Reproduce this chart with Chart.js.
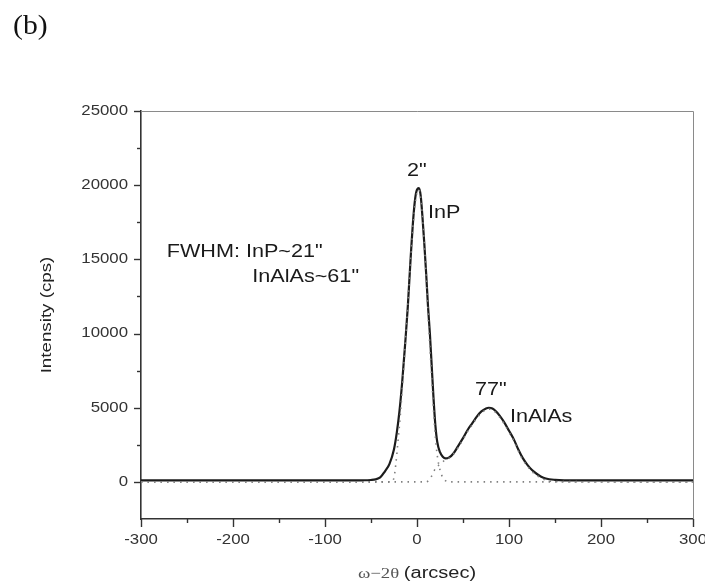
<!DOCTYPE html>
<html>
<head>
<meta charset="utf-8">
<script src="https://cdn.jsdelivr.net/npm/chart.js@4.4.1/dist/chart.umd.min.js"></script>
<style>
  html, body { margin: 0; padding: 0; background: #fff; }
  #wrap { width: 705px; height: 584px; }
</style>
</head>
<body>
<div id="wrap"><canvas id="xrd" width="705" height="584"></canvas></div>
<script>
// measured omega-2theta scan (solid line)
const scanX = [-300, -200, -100, -60, -50, -45, -40, -35, -30, -25, -22, -19, -16, -13, -10, -7, -4, -2, 0, 2, 4, 6, 8, 10, 12, 14, 16, 18, 20, 22, 25, 28, 31, 35, 40, 45, 50, 55, 60, 65, 70, 75, 78, 82, 86, 90, 95, 100, 105, 110, 115, 120, 125, 130, 135, 140, 150, 160, 200, 300];
const scanY = [100, 100, 100, 110, 130, 170, 300, 700, 1200, 2200, 3300, 4800, 6800, 9200, 11800, 15000, 17800, 19100, 19700, 19800, 19300, 17800, 16000, 14000, 11800, 10000, 7800, 5600, 3800, 2700, 2000, 1700, 1580, 1650, 1950, 2450, 2950, 3500, 3950, 4400, 4750, 4950, 5000, 4950, 4750, 4450, 4000, 3450, 2900, 2200, 1600, 1150, 800, 550, 350, 230, 140, 110, 100, 100];

// fitted InP component (dotted)
const inpX = [-300, -40, -28, -25, -23, -21, -18, -15, -12, -9, -6, -3, 0, 2, 4, 7, 10, 13, 16, 18, 20, 22, 25, 28, 31, 35, 300];
const inpY = [0, 0, 0, 300, 1200, 2500, 4600, 7200, 10000, 12900, 15800, 18200, 19500, 19700, 19200, 17000, 13800, 10200, 7000, 4800, 3000, 1800, 800, 300, 80, 0, 0];

// fitted InAlAs component (dotted)
const inalasX = [-300, 10, 15, 20, 25, 30, 35, 40, 45, 50, 55, 60, 65, 70, 75, 78, 82, 86, 90, 95, 100, 105, 110, 115, 120, 125, 130, 135, 140, 150, 300];
const inalasY = [0, 0, 300, 900, 1200, 1450, 1600, 1900, 2350, 2850, 3400, 3850, 4300, 4650, 4850, 4900, 4850, 4650, 4350, 3900, 3350, 2800, 2100, 1500, 1050, 700, 450, 250, 130, 30, 0];

// labelled tick values
const xLabelTicks = [-300, -200, -100, 0, 100, 200, 300];
const yLabelTicks = [0, 5000, 10000, 15000, 20000, 25000];

const notes = [
    { text: '2"', x: -11, y: 20950 },
    { text: 'InP', x: 12, y: 18150 },
    { text: '77"', x: 63, y: 6190 },
    { text: 'InAlAs', x: 101, y: 4400 },
    { text: 'FWHM: InP~21"', x: -272, y: 15490 },
    { text: 'InAlAs~61"', x: -179, y: 13800 }
];

const toPoints = (xs, ys) => xs.map((x, i) => ({ x: x, y: ys[i] }));

// the original lettering is rendered wide, so text is stretched along its direction
function wideText(ctx, text, x, y, font, align, stretch, color, rot) {
    ctx.save();
    ctx.translate(x, y);
    if (rot) ctx.rotate(rot);
    ctx.scale(stretch, 1);
    ctx.font = font;
    ctx.fillStyle = color;
    ctx.textAlign = align;
    ctx.textBaseline = 'middle';
    ctx.fillText(text, 0, 0);
    ctx.restore();
}

const decorPlugin = {
    id: 'decor',
    afterDraw(chart) {
        const ctx = chart.ctx;
        const xs = chart.scales.x;
        const ys = chart.scales.y;
        const area = chart.chartArea;

        // top and right frame
        ctx.save();
        ctx.strokeStyle = '#8a8a8a';
        ctx.lineWidth = 1;
        ctx.beginPath();
        ctx.moveTo(area.left, area.top + 0.5);
        ctx.lineTo(area.right + 0.5, area.top + 0.5);
        ctx.lineTo(area.right + 0.5, area.bottom);
        ctx.stroke();

        // tick marks, long for labelled values
        ctx.strokeStyle = '#333';
        ctx.lineWidth = 1.4;
        xs.ticks.forEach(t => {
            const px = Math.round(xs.getPixelForValue(t.value)) + 0.5;
            const len = xLabelTicks.includes(t.value) ? 8 : 4;
            ctx.beginPath();
            ctx.moveTo(px, area.bottom);
            ctx.lineTo(px, area.bottom + len);
            ctx.stroke();
        });
        ys.ticks.forEach(t => {
            if (t.value < 0) return;
            const py = Math.round(ys.getPixelForValue(t.value)) + 0.5;
            const len = yLabelTicks.includes(t.value) ? 7 : 4;
            ctx.beginPath();
            ctx.moveTo(area.left, py);
            ctx.lineTo(area.left - len, py);
            ctx.stroke();
        });
        ctx.restore();

        // tick labels
        const tickFont = '14px "Liberation Sans", Arial, sans-serif';
        xLabelTicks.forEach(v => {
            wideText(ctx, String(v), xs.getPixelForValue(v), 540, tickFont, 'center', 1.2, '#333');
        });
        yLabelTicks.forEach(v => {
            wideText(ctx, String(v), area.left - 13, ys.getPixelForValue(v), tickFont, 'right', 1.2, '#333');
        });

        // axis titles
        wideText(ctx, 'Intensity (cps)', 47, (area.top + area.bottom) / 2,
            '15px "Liberation Sans", Arial, sans-serif', 'center', 1.25, '#222', -Math.PI / 2);

        const part1 = 'ω−2θ ';
        const part2 = '(arcsec)';
        const f1 = '15px "Liberation Serif", "Times New Roman", serif';
        const f2 = '16px "Liberation Sans", Arial, sans-serif';
        ctx.save();
        ctx.font = f1;
        const w1 = ctx.measureText(part1).width * 1.25;
        ctx.font = f2;
        const w2 = ctx.measureText(part2).width * 1.25;
        ctx.restore();
        const startX = (area.left + area.right) / 2 - (w1 + w2) / 2;
        wideText(ctx, part1, startX, 574, f1, 'left', 1.25, '#555');
        wideText(ctx, part2, startX + w1, 574, f2, 'left', 1.25, '#222');

        // peak notes
        notes.forEach(n => {
            wideText(ctx, n.text, xs.getPixelForValue(n.x), ys.getPixelForValue(n.y),
                '18px "Liberation Sans", Arial, sans-serif', 'left', 1.2, '#1a1a1a');
        });

        // panel letter
        wideText(ctx, '(b)', 13, 27, '27px "Liberation Serif", "Times New Roman", serif', 'left', 1.1, '#111');
    }
};

const ctx = document.getElementById('xrd');

new Chart(ctx, {
    type: 'line',
    data: {
        datasets: [
            {
                label: 'InP fit',
                data: toPoints(inpX, inpY),
                borderColor: '#808080',
                borderWidth: 1.6,
                borderDash: [1.5, 5],
                pointRadius: 0,
                fill: false,
                cubicInterpolationMode: 'monotone'
            },
            {
                label: 'InAlAs fit',
                data: toPoints(inalasX, inalasY),
                borderColor: '#808080',
                borderWidth: 1.6,
                borderDash: [1.5, 5],
                pointRadius: 0,
                fill: false,
                cubicInterpolationMode: 'monotone'
            },
            {
                label: 'Measured',
                data: toPoints(scanX, scanY),
                borderColor: '#1c1c1c',
                borderWidth: 2.2,
                pointRadius: 0,
                fill: false,
                cubicInterpolationMode: 'monotone'
            }
        ]
    },
    options: {
        responsive: false,
        animation: false,
        devicePixelRatio: 1,
        layout: {
            padding: { top: 111, right: 12, left: 0, bottom: 0 }
        },
        plugins: {
            legend: { display: false },
            tooltip: { enabled: false }
        },
        scales: {
            x: {
                type: 'linear',
                min: -300,
                max: 300,
                ticks: { display: false, stepSize: 50 },
                grid: { display: false },
                border: { display: true, color: '#333', width: 1.6 },
                afterFit(scale) { scale.height = 65; }
            },
            y: {
                type: 'linear',
                min: -2500,
                max: 25000,
                ticks: { display: false, stepSize: 2500 },
                grid: { display: false },
                border: { display: true, color: '#333', width: 1.6 },
                afterFit(scale) { scale.width = 141; }
            }
        }
    },
    plugins: [decorPlugin]
});
</script>
</body>
</html>
